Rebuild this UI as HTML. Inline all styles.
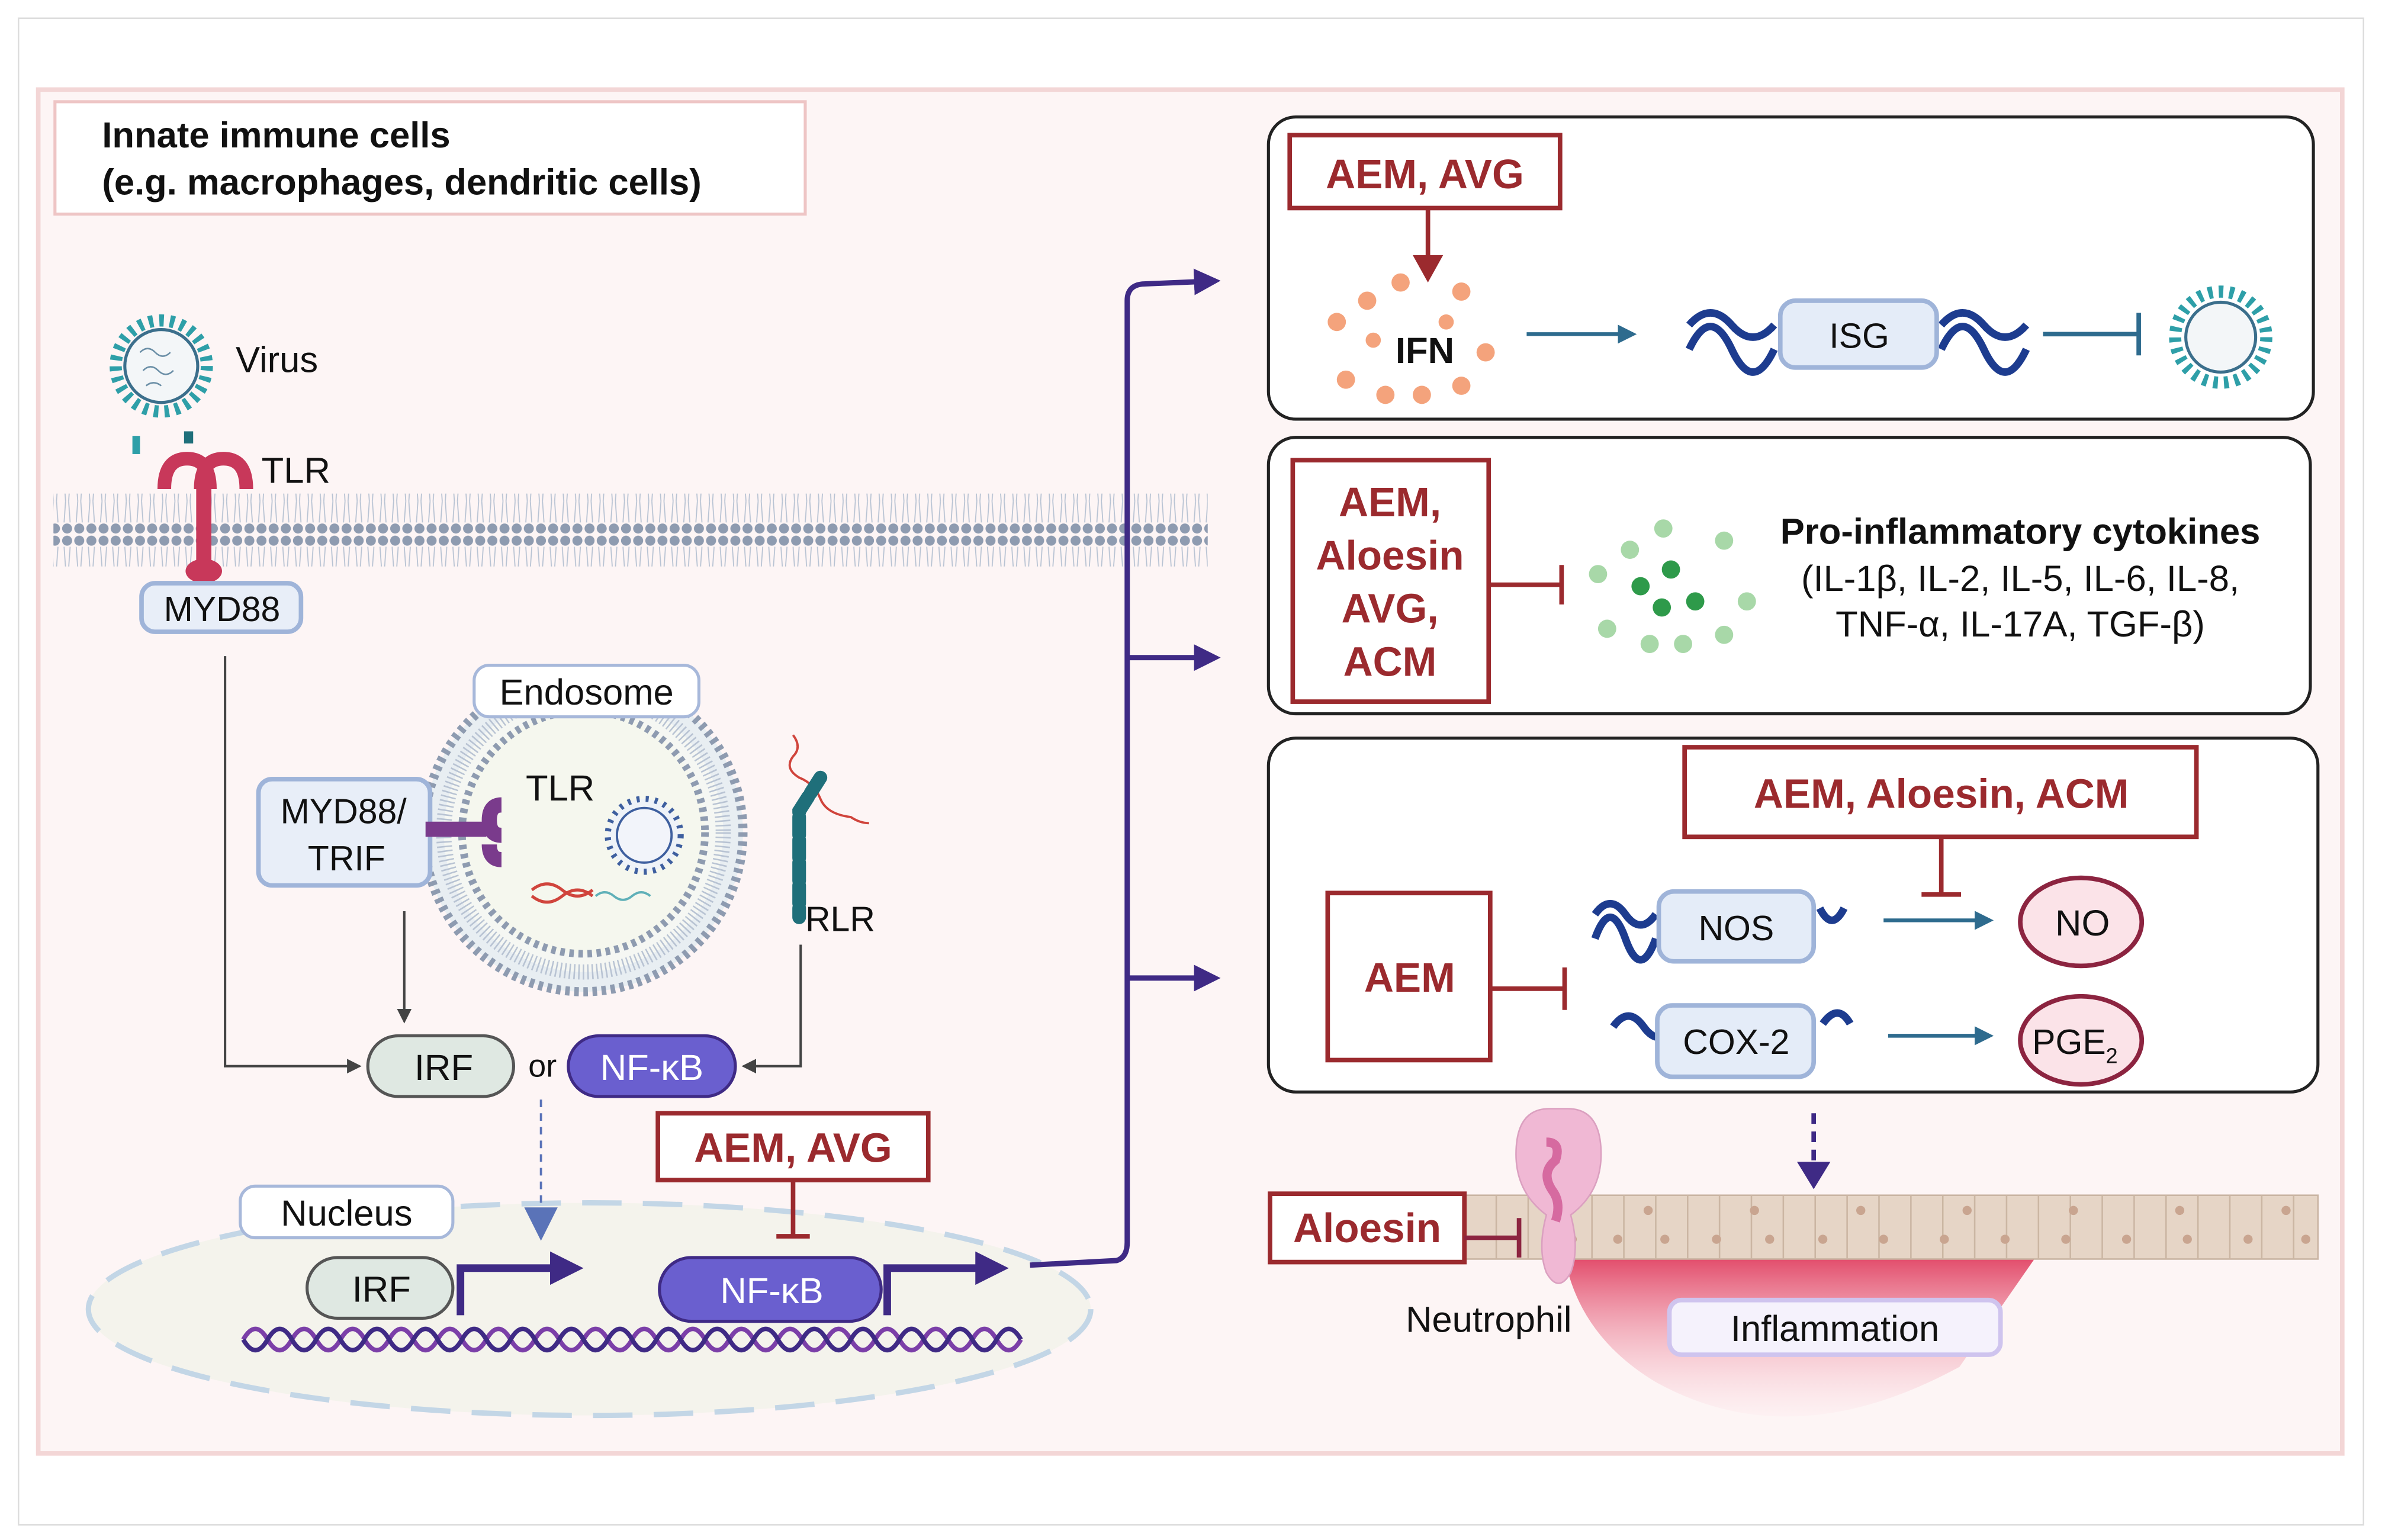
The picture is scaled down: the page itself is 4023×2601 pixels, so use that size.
<!DOCTYPE html>
<html><head><meta charset="utf-8"><style>
html,body{margin:0;padding:0;background:#fff}
svg{display:block}
text{font-family:"Liberation Sans",sans-serif}
</style></head><body>
<svg width="4023" height="2601" viewBox="0 0 1568 1014" xmlns="http://www.w3.org/2000/svg">
<defs>
<marker id="pa" viewBox="0 0 10 10" refX="8" refY="5" markerWidth="5" markerHeight="5" orient="auto"><path d="M0,0L10,5L0,10z" fill="#3f2a85"/></marker>
<marker id="ga" viewBox="0 0 10 10" refX="8" refY="5" markerWidth="6" markerHeight="6" orient="auto"><path d="M0,0L10,5L0,10z" fill="#444"/></marker>
<marker id="ba" viewBox="0 0 10 10" refX="8" refY="5" markerWidth="5" markerHeight="5" orient="auto"><path d="M0,0L10,5L0,10z" fill="#2e6b8e"/></marker>
<linearGradient id="inf" x1="0" y1="0" x2="0" y2="1"><stop offset="0" stop-color="#e24b6a"/><stop offset="1" stop-color="#fde8ec" stop-opacity="0.3"/></linearGradient>
<pattern id="mem" width="8" height="44" patternUnits="userSpaceOnUse"><circle cx="4" cy="4" r="3.3" fill="#8e9bb0"/><circle cx="4" cy="40" r="3.3" fill="#8e9bb0"/><path d="M2,8L3,22M6,8L5,22M2,36L3,22M6,36L5,22" stroke="#b8c3d3" stroke-width="0.7"/></pattern>
</defs>
<rect x="0" y="0" width="1568" height="1014" fill="#fff"/>
<rect x="12" y="12" width="1544" height="992" fill="#fff" stroke="#ddd" stroke-width="1"/>
<rect x="25" y="59" width="1517" height="898" fill="#fdf5f5" stroke="#f3d6d6" stroke-width="3"/>
<rect x="36" y="67" width="494" height="74" fill="#fff" stroke="#eec5c5" stroke-width="2"/>
<text x="67" y="97" font-size="24" font-weight="bold" fill="#111">Innate immune cells</text>
<text x="67" y="128" font-size="24" font-weight="bold" fill="#111">(e.g. macrophages, dendritic cells)</text>

<circle cx="106" cy="241" r="30" fill="none" stroke="#2e9fa8" stroke-width="8" stroke-dasharray="3 4"/>
<circle cx="106" cy="241" r="24" fill="#f3f6f8" stroke="#3b6f8c" stroke-width="2"/>
<path d="M92,232q5,-5 10,0t10,0M94,244q5,-5 10,0t10,0M96,254q5,-4 10,0" stroke="#6a8ea6" fill="none"/>
<text x="155" y="245" font-size="24" fill="#111">Virus</text>
<rect x="87" y="287" width="5" height="12" fill="#2e9fa8"/><rect x="121" y="284" width="6" height="8" fill="#1f6f7a"/>
<rect x="35" y="325" width="760" height="48" fill="url(#mem)"/>
<path d="M108,322q0,-20 15,-20q15,0 15,20M132,322q0,-20 15,-20q15,0 15,20" stroke="#c8385a" stroke-width="9" fill="none"/>
<rect x="129" y="318" width="10" height="56" fill="#c8385a"/>
<ellipse cx="134" cy="376" rx="12" ry="8" fill="#c8385a"/>
<text x="172" y="318" font-size="24" fill="#111">TLR</text>
<rect x="93" y="384" width="105" height="32" rx="9" fill="#e8eef8" stroke="#9fb4d9" stroke-width="3"/>
<text x="146" y="409" font-size="23" fill="#111" text-anchor="middle">MYD88</text>
<circle cx="384" cy="548" r="105" fill="#e8eef2" stroke="#8e9bb0" stroke-width="6" stroke-dasharray="3 3"/>
<circle cx="384" cy="548" r="92" fill="#f5f7f3" stroke="#b8c3d3" stroke-width="10" stroke-dasharray="1 2"/>
<circle cx="384" cy="548" r="80" fill="#f5f7ee" stroke="#8e9bb0" stroke-width="5" stroke-dasharray="3 3"/>
<rect x="312" y="438" width="148" height="34" rx="10" fill="#fff" stroke="#a7b8da" stroke-width="2"/>
<text x="386" y="464" font-size="24" fill="#111" text-anchor="middle">Endosome</text>
<rect x="170" y="513" width="113" height="70" rx="9" fill="#e8eef8" stroke="#9fb4d9" stroke-width="3"/>
<text x="226" y="542" font-size="23" fill="#111" text-anchor="middle">MYD88/</text>
<text x="228" y="573" font-size="23" fill="#111" text-anchor="middle">TRIF</text>
<path d="M280,546h40M330,530q-8,0 -8,10q0,10 8,10M330,566q-8,0 -8,-10" stroke="#7a3b8c" stroke-width="10" fill="none"/>
<text x="346" y="527" font-size="24" fill="#111">TLR</text>
<circle cx="424" cy="550" r="24" fill="#eef2f8" stroke="#3e5f9f" stroke-width="4" stroke-dasharray="2 4"/>
<circle cx="424" cy="550" r="18" fill="#f2f4fa" stroke="#3e5f9f" stroke-width="1.5"/>
<path d="M350,586q10,-8 20,0t20,0M350,590q10,8 20,0t20,0" stroke="#d0443c" stroke-width="2" fill="none"/>
<path d="M392,590q6,-5 12,0t12,0t12,0" stroke="#5fb0b8" stroke-width="1.5" fill="none"/>
<path d="M522,484q6,8 0,14q-6,8 4,14q10,4 14,14q4,10 20,12q6,4 12,4" stroke="#d0443c" stroke-width="1.5" fill="none"/>
<path d="M540,512l-14,22v70" stroke="#1f6f7a" stroke-width="9" stroke-linecap="round" fill="none" stroke-dasharray="12 3"/>
<text x="530" y="613" font-size="23" fill="#111">RLR</text>
<path d="M148,432V702H236" stroke="#444" stroke-width="1.6" fill="none" marker-end="url(#ga)"/>
<path d="M266,600V672" stroke="#444" stroke-width="1.6" fill="none" marker-end="url(#ga)"/>
<path d="M527,622V702H490" stroke="#444" stroke-width="1.6" fill="none" marker-end="url(#ga)"/>
<rect x="242" y="682" width="96" height="40" rx="20" fill="#dfe8e2" stroke="#555" stroke-width="2"/>
<text x="292" y="711" font-size="24" fill="#111" text-anchor="middle">IRF</text>
<text x="357" y="709" font-size="21" fill="#111" text-anchor="middle">or</text>
<rect x="374" y="682" width="110" height="40" rx="20" fill="#6a5fcf" stroke="#3f2a85" stroke-width="2"/>
<text x="429" y="711" font-size="24" fill="#fff" text-anchor="middle">NF-κB</text>
<ellipse cx="388" cy="862" rx="330" ry="70" fill="#eef2e6" fill-opacity="0.6" stroke="#c3d6e6" stroke-width="3.5" stroke-dasharray="26 14"/>
<rect x="158" y="781" width="140" height="34" rx="10" fill="#fff" stroke="#a7b8da" stroke-width="2"/>
<text x="228" y="807" font-size="24" fill="#111" text-anchor="middle">Nucleus</text>
<path d="M356,724V795" stroke="#5a73b8" stroke-width="1.5" stroke-dasharray="5 4"/>
<path d="M345,795h22l-11,22z" fill="#5a73b8"/>
<path d="M160,882q8,-14 16,0t16,0t16,0t16,0t16,0t16,0t16,0t16,0t16,0t16,0t16,0t16,0t16,0t16,0t16,0t16,0t16,0t16,0t16,0t16,0t16,0t16,0t16,0t16,0t16,0t16,0t16,0t16,0t16,0t16,0t16,0t16,0" stroke="#7b3fa8" stroke-width="3" fill="none"/>
<path d="M160,882q8,14 16,0t16,0t16,0t16,0t16,0t16,0t16,0t16,0t16,0t16,0t16,0t16,0t16,0t16,0t16,0t16,0t16,0t16,0t16,0t16,0t16,0t16,0t16,0t16,0t16,0t16,0t16,0t16,0t16,0t16,0t16,0t16,0" stroke="#3f2a85" stroke-width="3" fill="none"/>
<rect x="202" y="828" width="96" height="40" rx="20" fill="#dfe8e2" stroke="#555" stroke-width="2"/>
<text x="251" y="857" font-size="24" fill="#111" text-anchor="middle">IRF</text>
<path d="M303,866V835H365" stroke="#3f2a85" stroke-width="5" fill="none"/><path d="M362,824l22,11l-22,11z" fill="#3f2a85"/>
<rect x="434" y="828" width="146" height="42" rx="21" fill="#6a5fcf" stroke="#3f2a85" stroke-width="2"/>
<text x="508" y="858" font-size="24" fill="#fff" text-anchor="middle">NF-κB</text>
<path d="M584,866V835H645" stroke="#3f2a85" stroke-width="5" fill="none"/><path d="M642,824l22,11l-22,11z" fill="#3f2a85"/>
<rect x="433" y="733" width="178" height="44" fill="#fff" stroke="#9b2a2e" stroke-width="3"/>
<text x="522" y="765" font-size="27" font-weight="bold" fill="#9b2a2e" text-anchor="middle">AEM, AVG</text>
<path d="M522,777V814M511,814h22" stroke="#9b2a2e" stroke-width="3"/>
<path d="M678,833L735,830Q742,828 742,818V198Q742,188 752,187L800,185" stroke="#3f2a85" stroke-width="3.5" fill="none" marker-end="url(#pa)"/>
<path d="M742,433H800" stroke="#3f2a85" stroke-width="3.5" marker-end="url(#pa)"/>
<path d="M742,644H800" stroke="#3f2a85" stroke-width="3.5" marker-end="url(#pa)"/>
<rect x="835" y="77" width="688" height="199" rx="18" fill="#fff" stroke="#222" stroke-width="2"/>
<rect x="849" y="89" width="178" height="48" fill="#fff" stroke="#9b2a2e" stroke-width="3"/>
<text x="938" y="124" font-size="27" font-weight="bold" fill="#9b2a2e" text-anchor="middle">AEM, AVG</text>
<path d="M940,137V170" stroke="#9b2a2e" stroke-width="3"/><path d="M930,168h20l-10,18z" fill="#9b2a2e"/>
<g fill="#f4a37c"><circle cx="900" cy="198" r="6"/><circle cx="922" cy="186" r="6"/><circle cx="962" cy="192" r="6"/><circle cx="880" cy="212" r="6"/><circle cx="978" cy="232" r="6"/><circle cx="886" cy="250" r="6"/><circle cx="912" cy="260" r="6"/><circle cx="936" cy="260" r="6"/><circle cx="962" cy="254" r="6"/><circle cx="904" cy="224" r="5"/><circle cx="952" cy="212" r="5"/></g>
<text x="938" y="239" font-size="24" font-weight="bold" fill="#111" text-anchor="middle">IFN</text>
<path d="M1005,220H1075" stroke="#2e6b8e" stroke-width="2.5" marker-end="url(#ba)"/>
<path d="M1112,214q14,-16 28,0t28,0M1112,230q14,-30 28,0t28,0M1278,214q14,-16 28,0t28,0M1278,230q14,-30 28,0t28,0" stroke="#1d3c8f" stroke-width="5" fill="none"/>
<rect x="1172" y="198" width="103" height="44" rx="10" fill="#e4ecf8" stroke="#9fb4d9" stroke-width="3"/>
<text x="1224" y="229" font-size="23" fill="#111" text-anchor="middle">ISG</text>
<path d="M1345,220H1408M1408,206V234" stroke="#2e6b8e" stroke-width="3"/>
<circle cx="1462" cy="222" r="30" fill="none" stroke="#2e9fa8" stroke-width="8" stroke-dasharray="3 4"/>
<circle cx="1462" cy="222" r="23" fill="#f3f6f8" stroke="#3b6f8c" stroke-width="2"/>
<rect x="835" y="288" width="686" height="182" rx="18" fill="#fff" stroke="#222" stroke-width="2"/>
<rect x="851" y="303" width="129" height="159" fill="#fff" stroke="#9b2a2e" stroke-width="3"/>
<g font-size="27" font-weight="bold" fill="#9b2a2e" text-anchor="middle"><text x="915" y="340">AEM,</text><text x="915" y="375">Aloesin</text><text x="915" y="410">AVG,</text><text x="915" y="445">ACM</text></g>
<path d="M980,385H1028M1028,372V398" stroke="#9b2a2e" stroke-width="3"/>
<g fill="#a8d8a8"><circle cx="1073" cy="362" r="6"/><circle cx="1095" cy="348" r="6"/><circle cx="1135" cy="356" r="6"/><circle cx="1052" cy="378" r="6"/><circle cx="1150" cy="396" r="6"/><circle cx="1058" cy="414" r="6"/><circle cx="1086" cy="424" r="6"/><circle cx="1108" cy="424" r="6"/><circle cx="1135" cy="418" r="6"/></g>
<g fill="#2e9a4a"><circle cx="1100" cy="375" r="6"/><circle cx="1080" cy="386" r="6"/><circle cx="1094" cy="400" r="6"/><circle cx="1116" cy="396" r="6"/></g>
<text x="1330" y="358" font-size="24" font-weight="bold" fill="#111" text-anchor="middle">Pro-inflammatory cytokines</text>
<text x="1330" y="389" font-size="24" fill="#111" text-anchor="middle">(IL-1β, IL-2, IL-5, IL-6, IL-8,</text>
<text x="1330" y="419" font-size="24" fill="#111" text-anchor="middle">TNF-α, IL-17A, TGF-β)</text>
<rect x="835" y="486" width="691" height="233" rx="18" fill="#fff" stroke="#222" stroke-width="2"/>
<rect x="1109" y="492" width="337" height="59" fill="#fff" stroke="#9b2a2e" stroke-width="3"/>
<text x="1278" y="532" font-size="27" font-weight="bold" fill="#9b2a2e" text-anchor="middle">AEM, Aloesin, ACM</text>
<path d="M1278,551V589M1265,589h26" stroke="#9b2a2e" stroke-width="3"/>
<rect x="874" y="588" width="107" height="110" fill="#fff" stroke="#9b2a2e" stroke-width="3"/>
<text x="928" y="653" font-size="27" font-weight="bold" fill="#9b2a2e" text-anchor="middle">AEM</text>
<path d="M981,651H1030M1030,637V665" stroke="#9b2a2e" stroke-width="3"/>
<path d="M1050,602q10,-14 20,0t20,0M1050,618q10,-28 20,0t20,0M1198,598q8,16 16,0M1062,676q10,-14 20,0t20,0M1200,674q10,-14 18,0" stroke="#1d3c8f" stroke-width="5" fill="none"/>
<rect x="1092" y="587" width="102" height="46" rx="10" fill="#e4ecf8" stroke="#9fb4d9" stroke-width="3"/>
<text x="1143" y="619" font-size="23" fill="#111" text-anchor="middle">NOS</text>
<rect x="1091" y="662" width="103" height="47" rx="10" fill="#e4ecf8" stroke="#9fb4d9" stroke-width="3"/>
<text x="1143" y="694" font-size="23" fill="#111" text-anchor="middle">COX-2</text>
<path d="M1240,606H1310" stroke="#2e6b8e" stroke-width="2.5" marker-end="url(#ba)"/>
<path d="M1243,682H1310" stroke="#2e6b8e" stroke-width="2.5" marker-end="url(#ba)"/>
<ellipse cx="1370" cy="607" rx="40" ry="29" fill="#fbe3e8" stroke="#8c2440" stroke-width="3"/>
<text x="1371" y="616" font-size="24" fill="#111" text-anchor="middle">NO</text>
<ellipse cx="1370" cy="685" rx="40" ry="29" fill="#fbe3e8" stroke="#8c2440" stroke-width="3"/>
<text x="1366" y="694" font-size="23" fill="#111" text-anchor="middle">PGE<tspan font-size="14" dy="6">2</tspan></text>
<path d="M1194,733V770" stroke="#3f2a85" stroke-width="3" stroke-dasharray="7 5"/>
<path d="M1183,765h22l-11,18z" fill="#3f2a85"/>
<path d="M1030,828Q1040,880 1090,910Q1180,960 1290,900L1340,828z" fill="url(#inf)"/>
<rect x="963" y="787" width="563" height="42" fill="#e6d5c6" stroke="#c9b4a2" stroke-width="1"/>
<g stroke="#cbb6a3" stroke-width="1">
<path d="M985,787v42M1006,787v42M1027,787v42M1048,787v42M1069,787v42M1090,787v42M1111,787v42M1132,787v42M1153,787v42M1174,787v42M1195,787v42M1216,787v42M1237,787v42M1258,787v42M1279,787v42M1300,787v42M1321,787v42M1342,787v42M1363,787v42M1384,787v42M1405,787v42M1426,787v42M1447,787v42M1468,787v42M1489,787v42M1510,787v42"/></g>
<g fill="#c9a590"><circle cx="1035" cy="816" r="3"/><circle cx="1065" cy="816" r="3"/><circle cx="1096" cy="816" r="3"/><circle cx="1130" cy="816" r="3"/><circle cx="1165" cy="816" r="3"/><circle cx="1200" cy="816" r="3"/><circle cx="1240" cy="816" r="3"/><circle cx="1280" cy="816" r="3"/><circle cx="1320" cy="816" r="3"/><circle cx="1360" cy="816" r="3"/><circle cx="1400" cy="816" r="3"/><circle cx="1440" cy="816" r="3"/><circle cx="1480" cy="816" r="3"/><circle cx="1518" cy="816" r="3"/><circle cx="1085" cy="797" r="3"/><circle cx="1155" cy="797" r="3"/><circle cx="1225" cy="797" r="3"/><circle cx="1295" cy="797" r="3"/><circle cx="1365" cy="797" r="3"/><circle cx="1435" cy="797" r="3"/><circle cx="1505" cy="797" r="3"/></g>
<path d="M1020,730q-22,0 -22,30q0,25 20,40q-6,22 0,38q8,14 16,0q6,-16 0,-38q20,-15 20,-40q0,-30 -22,-30z" fill="#f0b8d4" stroke="#dba0c0"/>
<path d="M1018,752q10,0 6,12q-10,8 -2,20q6,8 2,20" stroke="#d66aa0" stroke-width="6" fill="none"/>
<text x="980" y="877" font-size="24" fill="#111" text-anchor="middle">Neutrophil</text>
<rect x="836" y="786" width="128" height="45" fill="#fff" stroke="#9b2a2e" stroke-width="3"/>
<text x="900" y="818" font-size="27" font-weight="bold" fill="#9b2a2e" text-anchor="middle">Aloesin</text>
<path d="M964,815H1000M1000,802V828" stroke="#8c2440" stroke-width="3"/>
<rect x="1099" y="856" width="218" height="36" rx="8" fill="#f5f2fc" stroke="#cfc4ee" stroke-width="3"/>
<text x="1208" y="883" font-size="24" fill="#111" text-anchor="middle">Inflammation</text>
</svg>
</body></html>
